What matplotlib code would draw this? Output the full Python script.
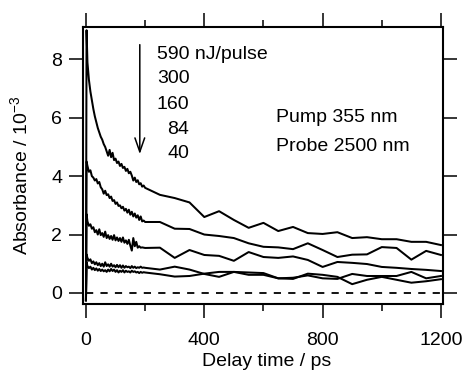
import matplotlib
matplotlib.use("Agg")
import matplotlib.pyplot as plt
from matplotlib.ticker import MultipleLocator

plt.rcParams['font.family'] = ['Liberation Sans', 'DejaVu Sans']
plt.rcParams['mathtext.default'] = 'regular'

# delay times (ps): dense early part, then coarse steps
t_early = [0, 2] + list(range(5, 201, 5))
t_late = list(range(250, 1201, 50))

# absorbance (10^-3), one list per pump energy
a590_early = [-0.25, 9.0, 7.9, 7.3, 6.9, 6.6, 6.3, 6.05, 5.85, 5.65,
              5.5, 5.35, 5.25, 5.1, 5.0, 4.85, 4.7, 4.9, 4.65, 4.8,
              4.55, 4.6, 4.45, 4.5, 4.35, 4.42, 4.28, 4.32, 4.18, 4.25,
              4.1, 4.15, 4.02, 3.85, 3.95, 3.8, 3.86, 3.72, 3.76, 3.64,
              3.68, 3.6]
a590_late = [3.36, 3.25, 3.1, 2.6, 2.8, 2.5, 2.23, 2.4, 2.12, 2.26,
             2.05, 2.02, 2.08, 1.88, 1.91, 1.84, 1.84, 1.75, 1.75, 1.64]

a300_early = [-0.25, 4.5, 4.35, 4.15, 4.2, 4.0, 3.95, 3.85, 3.9, 3.75,
              3.8, 3.62, 3.55, 3.4, 3.5, 3.35, 3.38, 3.25, 3.3, 3.15,
              3.18, 3.05, 3.1, 2.98, 3.0, 2.9, 2.95, 2.82, 2.88, 2.75,
              2.85, 2.68, 2.78, 2.62, 2.72, 2.58, 2.66, 2.5, 2.62, 2.45,
              2.48, 2.43]
a300_late = [2.43, 2.2, 2.19, 2.0, 1.95, 1.88, 1.7, 1.58, 1.56, 1.5,
             1.7, 1.47, 1.23, 1.31, 1.32, 1.57, 1.54, 1.14, 1.44, 1.3]

a160_early = [-0.25, 2.7, 2.45, 2.3, 2.35, 2.2, 2.25, 2.08, 2.15, 2.0,
              2.18, 1.98, 2.05, 1.92, 2.1, 1.88, 1.98, 1.85, 1.95, 1.82,
              1.98, 1.8, 1.9, 1.78, 1.88, 1.75, 1.9, 1.72, 1.8, 1.68,
              1.82, 1.62, 1.45, 1.88, 1.6, 1.75, 1.55, 1.6, 1.55, 1.56,
              1.55, 1.54]
a160_late = [1.55, 1.2, 1.47, 1.3, 1.27, 1.1, 1.4, 1.23, 1.2, 1.25,
             1.13, 0.89, 1.06, 1.03, 0.99, 0.89, 0.86, 0.82, 0.79, 0.75]

a84_early = [-0.25, 1.32, 1.2, 1.1, 1.15, 1.02, 1.08, 0.98, 1.05, 0.95,
             1.02, 0.92, 1.0, 0.9, 1.05, 0.92, 0.98, 0.9, 1.0, 0.9,
             0.95, 0.88, 0.96, 0.88, 0.95, 0.86, 0.94, 0.86, 0.92, 0.88,
             0.9, 0.85, 0.92, 0.86, 0.9, 0.85, 0.88, 0.86, 0.9, 0.86,
             0.87, 0.86]
a84_late = [0.8, 0.9, 0.8, 0.65, 0.55, 0.72, 0.7, 0.68, 0.5, 0.48,
            0.66, 0.62, 0.55, 0.3, 0.45, 0.55, 0.45, 0.35, 0.4, 0.47]

a40_early = [-0.25, 1.05, 0.92, 0.85, 0.9, 0.8, 0.86, 0.78, 0.84, 0.76,
             0.82, 0.75, 0.8, 0.74, 0.78, 0.72, 0.8, 0.74, 0.82, 0.75,
             0.8, 0.72, 0.78, 0.7, 0.76, 0.72, 0.78, 0.7, 0.76, 0.72,
             0.74, 0.7, 0.76, 0.72, 0.74, 0.7, 0.72, 0.68, 0.72, 0.69,
             0.71, 0.7]
a40_late = [0.64, 0.56, 0.58, 0.66, 0.72, 0.72, 0.62, 0.62, 0.5, 0.52,
            0.6, 0.5, 0.48, 0.65, 0.58, 0.58, 0.58, 0.72, 0.5, 0.58]

energy_labels = ['590 nJ/pulse', '300', '160', '84', '40']

fig = plt.figure(figsize=(4.65, 3.75), dpi=100)
ax = fig.add_axes([0.1785, 0.1893, 0.7742, 0.7387])

t_all = t_early + t_late
for early, late in [(a590_early, a590_late), (a300_early, a300_late),
                    (a160_early, a160_late), (a84_early, a84_late),
                    (a40_early, a40_late)]:
    ax.plot(t_all, early + late, color='k', lw=1.45)

# zero baseline
ax.plot([0, 1200], [0, 0], color='k', lw=1.3, ls=(0, (4, 4)))

ax.set_xlim(-10, 1207)
ax.set_ylim(-0.38, 9.11)

ax.xaxis.set_major_locator(MultipleLocator(400))
ax.xaxis.set_minor_locator(MultipleLocator(200))
ax.yaxis.set_major_locator(MultipleLocator(2))
ax.tick_params(which='both', direction='out', top=True, right=True,
               width=1.1, labelsize=14)
ax.tick_params(which='major', length=10)
ax.tick_params(which='minor', length=5)
ax.tick_params(axis='x', pad=10.5)
ax.tick_params(axis='y', pad=5)
for s in ax.spines.values():
    s.set_linewidth(1.5)

ax.set_xlabel('Delay time / ps', fontsize=14)
ax.set_ylabel('Absorbance / 10$^{-3}$', fontsize=14)
ax.xaxis.set_label_coords(0.51, -0.178)
ax.yaxis.set_label_coords(-0.145, 0.465)

# arrow + energy list
ax.annotate('', xy=(182, 4.66), xytext=(182, 8.6),
            arrowprops=dict(arrowstyle='->,head_length=1.0,head_width=0.35',
                            color='k', lw=1.1))
text_x = [240, 240, 240, 274, 274]
text_y = [8.18, 7.33, 6.47, 5.6, 4.76]
for lab, tx, ty in zip(energy_labels, text_x, text_y):
    ax.text(tx, ty, lab, fontsize=14, ha='left', va='center')

ax.text(642, 6.0, 'Pump 355 nm', fontsize=14, ha='left', va='center')
ax.text(642, 5.0, 'Probe 2500 nm', fontsize=14, ha='left', va='center')

fig.savefig('out.png', dpi=100)
